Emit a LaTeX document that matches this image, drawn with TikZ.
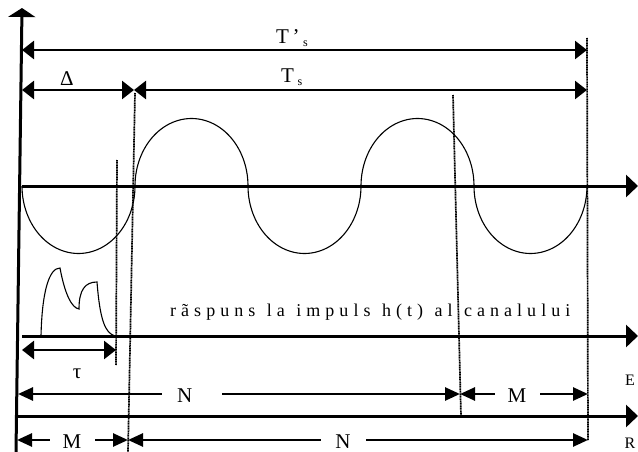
\documentclass[tikz,border=0pt]{standalone}
\usepackage{fontspec}
\setmainfont{Liberation Serif}
\newfontfamily\spacedfont[LetterSpace=28,WordSpace=1.2]{Liberation Serif}
\usetikzlibrary{arrows.meta}

\begin{document}
\begin{tikzpicture}[x=1pt,y=-1pt,font=\fontsize{21}{23}\selectfont,
 axis/.style={line width=3pt,-{Triangle[length=12pt,width=22pt]}},
 dim/.style={line width=2.6pt,{Triangle[length=12pt,width=18pt]}-{Triangle[length=12pt,width=18pt]}},
 dimb/.style={line width=2.6pt,{Triangle[length=15pt,width=13pt]}-{Triangle[length=15pt,width=13pt]}},
 guide/.style={line width=1.7pt,dash pattern=on 1.2pt off 0.5pt},
 wave/.style={line width=1.1pt},
 lbl/.style={fill=white,inner sep=0pt,minimum width=45pt,minimum height=6pt}]
 \useasboundingbox (0,0) rectangle (638,452);
 % axes
 \coordinate (yb) at (16,452); \coordinate (yt) at (22,8);
 \coordinate (c0) at (22,186); \coordinate (c1) at (638,186);
 \coordinate (h0) at (22,336); \coordinate (h1) at (638,336);
 \coordinate (r0) at (17,416); \coordinate (r1) at (638,416);
 \draw[line width=3pt,-{Triangle[length=9pt,width=27pt]}] (yb) -- (yt);
 \draw[axis] (c0) -- (c1);
 \draw[axis] (h0) -- (h1);
 \draw[axis] (r0) -- (r1);
 % carrier
 \foreach \k/\s in {0/1,1/-1,2/1,3/-1,4/1}
  \draw[wave] plot[domain=0:180,samples=60] ({22+113*\k+56.5-56.5*cos(\x)},{186+\s*67.5*sin(\x)});
 % impulse response
 \draw[wave] (41,336) .. controls (42,292) and (49,268) .. (60,268)
  .. controls (65,295) and (72,308) .. (79,309)
  .. controls (79,290) and (85,282) .. (97,282)
  .. controls (100,320) and (105,333) .. (115,336);
 % guides
 \coordinate (g1a) at (117,160); \coordinate (g1b) at (116,365);
 \coordinate (g2a) at (135,93); \coordinate (g2b) at (128,452);
 \coordinate (g3a) at (453,95); \coordinate (g3b) at (461,416);
 \coordinate (g4a) at (587,38); \coordinate (g4b) at (588,440);
 \draw[guide] (g1a) -- (g1b);
 \draw[guide] (g2a) -- (g2b);
 \draw[guide] (g3a) -- (g3b);
 \draw[guide] (g4a) -- (g4b);
 % dimensions
 \coordinate (tp0) at (22,50); \coordinate (tp1) at (587,50);
 \coordinate (d0) at (22,90); \coordinate (d1) at (134,90); \coordinate (d2) at (587,90);
 \coordinate (u0) at (22,350); \coordinate (u1) at (116,350);
 \coordinate (e0) at (18,394); \coordinate (e1) at (460,394); \coordinate (e2) at (588,394);
 \coordinate (b0) at (17,440); \coordinate (b1) at (128,440); \coordinate (b2) at (588,440);
 \draw[dim] (tp0) -- (tp1);
 \draw[dim] (d0) -- (d1);
 \draw[dim] (d1) -- (d2);
 \draw[dim] (u0) -- (u1);
 \draw[dimb] (e0) -- (e1);
 \draw[dimb] (e1) -- (e2);
 \draw[dimb] (b0) -- (b1);
 \draw[dimb] (b1) -- (b2);
 % labels
 \node[anchor=base west,inner sep=0pt] (tsp) at (276,44) {T\,’\,\raisebox{-3pt}{\fontsize{12}{12}\selectfont s}};
 \node[anchor=base west,inner sep=0pt] (ts) at (281,83) {T\,\raisebox{-3pt}{\fontsize{12}{12}\selectfont s}};
 \node[anchor=base,inner sep=0pt] (delta) at (67,86) {Δ};
 \node[anchor=base,inner sep=0pt] (tau) at (77,378) {τ};
 \node[anchor=base west,inner sep=0pt,font=\spacedfont\fontsize{18}{20}\selectfont] (resp) at (170,316) {rãspuns la impuls h(t) al canalului};
 \node[lbl,text width=60pt,align=left] (nE) at (192,396) {\hspace*{15pt}N};
 \node[lbl] (mE) at (517,396) {M};
 \node[lbl] (mR) at (72,442) {M};
 \node[lbl] (nR) at (343,442) {N};
 \node[font=\fontsize{16}{18}\selectfont] (labE) at (630,380) {E};
 \node[font=\fontsize{16}{18}\selectfont] (labR) at (630,443) {R};
\end{tikzpicture}
\end{document}
